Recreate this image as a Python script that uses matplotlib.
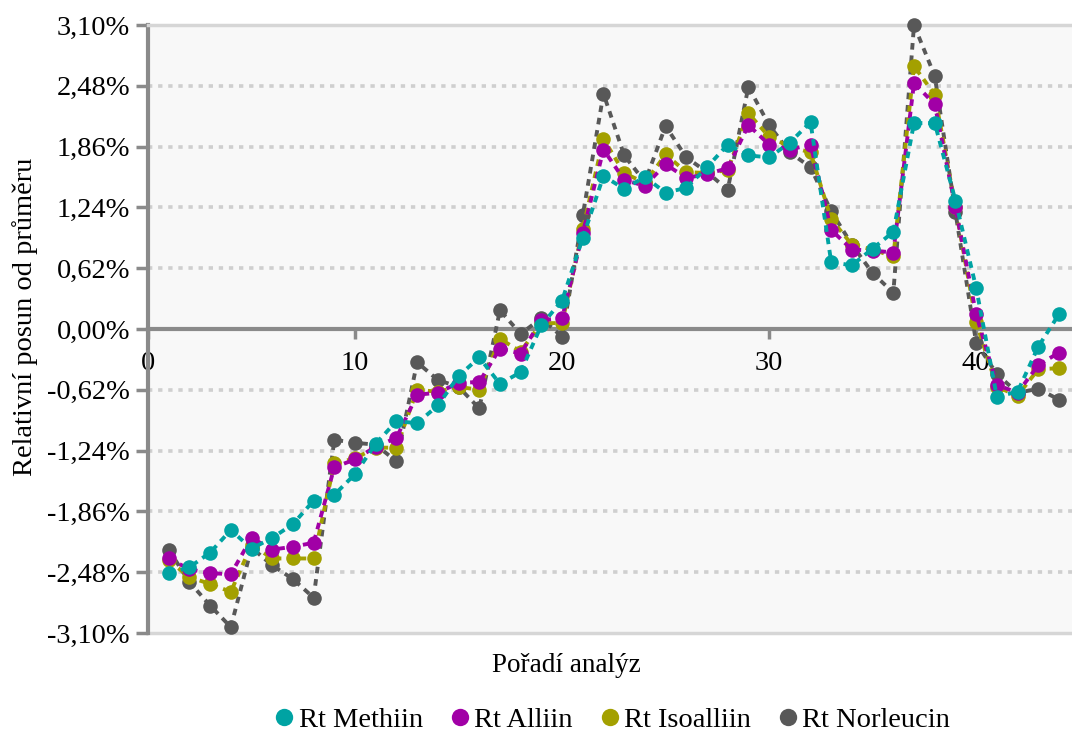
import matplotlib
matplotlib.use("Agg")
import matplotlib.pyplot as plt
from matplotlib.lines import Line2D

x = list(range(1, 45))
methiin = [-2.49, -2.43, -2.28, -2.05, -2.24, -2.13, -1.99, -1.75, -1.69, -1.48,
           -1.17, -0.94, -0.96, -0.78, -0.48, -0.29, -0.56, -0.44, 0.04, 0.29,
           0.93, 1.56, 1.43, 1.55, 1.39, 1.44, 1.65, 1.88, 1.77, 1.75,
           1.90, 2.11, 0.68, 0.65, 0.82, 0.99, 2.10, 2.10, 1.31, 0.42,
           -0.69, -0.64, -0.18, 0.15]
alliin = [-2.34, -2.45, -2.49, -2.50, -2.13, -2.25, -2.22, -2.18, -1.41, -1.33,
          -1.20, -1.11, -0.67, -0.65, -0.55, -0.54, -0.20, -0.25, 0.09, 0.11,
          0.98, 1.83, 1.52, 1.46, 1.68, 1.54, 1.58, 1.64, 2.08, 1.88,
          1.83, 1.88, 1.01, 0.81, 0.80, 0.78, 2.51, 2.29, 1.24, 0.15,
          -0.57, -0.65, -0.37, -0.24]
isoalliin = [-2.36, -2.53, -2.60, -2.68, -2.20, -2.34, -2.34, -2.34, -1.37, -1.32,
             -1.21, -1.21, -0.62, -0.64, -0.59, -0.62, -0.10, -0.23, 0.06, 0.06,
             1.02, 1.94, 1.59, 1.49, 1.78, 1.60, 1.59, 1.62, 2.20, 1.96,
             1.86, 1.80, 1.12, 0.86, 0.81, 0.74, 2.68, 2.39, 1.24, 0.07,
             -0.59, -0.68, -0.41, -0.40]
norleucin = [-2.25, -2.58, -2.82, -3.04, -2.23, -2.41, -2.55, -2.74, -1.13, -1.16,
             -1.18, -1.35, -0.34, -0.52, -0.59, -0.81, 0.19, -0.05, 0.11, -0.08,
             1.16, 2.40, 1.77, 1.50, 2.07, 1.75, 1.60, 1.42, 2.47, 2.08,
             1.80, 1.65, 1.20, 0.86, 0.57, 0.37, 3.10, 2.58, 1.19, -0.14,
             -0.46, -0.65, -0.61, -0.72]

series_names = ["Rt Methiin", "Rt Alliin", "Rt Isoalliin", "Rt Norleucin"]
series_values = [methiin, alliin, isoalliin, norleucin]
colors = ["#00a3a3", "#a100a6", "#a3a000", "#585858"]

yticks = [-3.10, -2.48, -1.86, -1.24, -0.62, 0.00, 0.62, 1.24, 1.86, 2.48, 3.10]
ytick_labels = ["-3,10%", "-2,48%", "-1,86%", "-1,24%", "-0,62%", "0,00%",
                "0,62%", "1,24%", "1,86%", "2,48%", "3,10%"]
xticks = [0, 10, 20, 30, 40]
xtick_labels = ["0", "10", "20", "30", "40"]

plt.rcParams['font.family'] = ['Liberation Serif', 'DejaVu Serif']
FS = 20.5

fig = plt.figure(figsize=(10.72, 7.35), dpi=100)
ax = fig.add_axes([148/1072, 1-633/735, 1-148/1072, (633-25)/735])
ax.set_facecolor("#f8f8f8")

# spines first (set_position resets tick settings)
ax.spines["right"].set_visible(False)
ax.spines["top"].set_color("#d6d6d6")
ax.spines["top"].set_linewidth(2.5)
ax.spines["left"].set_color("#8a8a8a")
ax.spines["left"].set_linewidth(3)
ax.spines["bottom"].set_position(("data", 0))
ax.spines["bottom"].set_color("#8a8a8a")
ax.spines["bottom"].set_linewidth(3)

# grid lines
for yv in yticks:
    if yv not in (0.0, -3.10, 3.10):
        ax.axhline(yv, color="#cfcfcf", lw=2.6, linestyle=(0, (1.2, 1.6)), zorder=1)
ax.axhline(-3.10, color="#d6d6d6", lw=2.5, zorder=1, clip_on=False)

# draw series: Methiin on top
for i in reversed(range(4)):
    ax.plot(x, series_values[i], color=colors[i], lw=2.8, linestyle=(0, (1.7, 1.5)),
            marker="o", markersize=10.5, markeredgewidth=0, zorder=3 + (4 - i),
            clip_on=False)

ax.set_xlim(0, 44.63)
ax.set_ylim(-3.10, 3.10)

ax.set_yticks(yticks)
ax.set_yticklabels(ytick_labels, fontsize=FS)
ax.set_xticks(xticks)
ax.set_xticklabels(xtick_labels, fontsize=FS)

ax.tick_params(axis="y", direction="out", length=9, width=2.5, color="#8a8a8a", pad=4)
ax.tick_params(axis="x", direction="out", length=7, width=2.5, color="#8a8a8a", pad=9)

ax.set_ylabel("Relativní posun od průměru", fontsize=FS)
ax.yaxis.set_label_coords(-110/924, (633-317)/608)

fig.text(566/1072, 1-665/735, "Pořadí analýz", fontsize=19.5, ha="center", va="center")

handles = [Line2D([], [], linestyle="none", marker="o", markersize=12.5,
                  markerfacecolor=c, markeredgewidth=0) for c in colors]
fig.legend(handles, series_names, loc="center", bbox_to_anchor=(610/1072, 1-720/735),
           ncol=4, frameon=False, fontsize=FS, handletextpad=0.0,
           columnspacing=0.8, handlelength=1.0, borderpad=0.1)

fig.savefig("out.png", dpi=100)
